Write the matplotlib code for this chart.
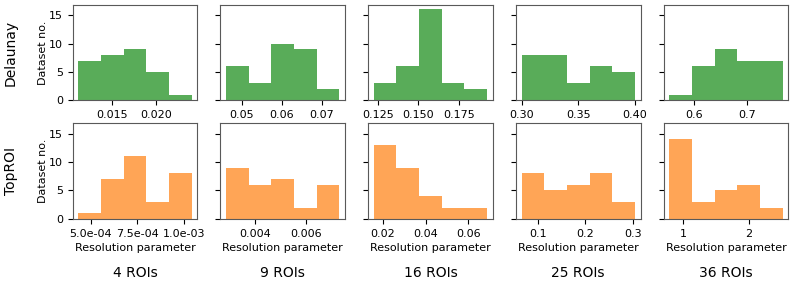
import matplotlib
matplotlib.use("Agg")
import matplotlib.pyplot as plt
import matplotlib.ticker as mticker
import numpy as np

rois = ['4 ROIs', '9 ROIs', '16 ROIs', '25 ROIs', '36 ROIs']
methods = ['Delaunay', 'TopROI']

# min / max of resolution parameter per panel, and counts in 5 bins
delaunay_range = [(0.01125, 0.02398), (0.0461, 0.0744), (0.1225, 0.1923), (0.300, 0.400), (0.5516, 0.7689)]
delaunay_counts = [[7, 8, 9, 5, 1], [6, 3, 10, 9, 2], [3, 6, 16, 3, 2], [8, 8, 3, 6, 5], [1, 6, 9, 7, 7]]
toproi_range = [(4.33e-4, 1.042e-3), (0.00285, 0.00732), (0.01576, 0.0688), (0.0663, 0.3035), (0.785, 2.518)]
toproi_counts = [[1, 7, 11, 3, 8], [9, 6, 7, 2, 6], [13, 9, 4, 2, 2], [8, 5, 6, 8, 3], [14, 3, 5, 6, 2]]

delaunay_ticks = [[0.015, 0.020], [0.05, 0.06, 0.07], [0.125, 0.150, 0.175], [0.30, 0.35, 0.40], [0.6, 0.7]]
toproi_ticks = [[5e-4, 7.5e-4, 1e-3], [0.004, 0.006], [0.02, 0.04, 0.06], [0.1, 0.2, 0.3], [1, 2]]

fig, axes = plt.subplots(2, 5, figsize=(7.93, 2.88), dpi=100, sharey=True)
fig.subplots_adjust(left=0.0917, right=0.994, bottom=0.240, top=0.983, wspace=0.185, hspace=0.243)

rows = [(delaunay_range, delaunay_counts, delaunay_ticks, 'green', 0.65),
        (toproi_range, toproi_counts, toproi_ticks, 'tab:orange', 0.7)]

for r, (rng, cnt, tks, col, a) in enumerate(rows):
    for c in range(5):
        ax = axes[r, c]
        lo, hi = rng[c]
        edges = np.linspace(lo, hi, 6)
        centers = (edges[:-1] + edges[1:]) / 2
        ax.hist(centers, bins=edges, weights=cnt[c], color=col, alpha=a)
        ax.set_xticks(tks[c])
        ax.tick_params(labelsize=8)
        for s in ax.spines.values():
            s.set_edgecolor('0.35')
        if r == 1:
            ax.set_xlabel('Resolution parameter', fontsize=8, labelpad=3)
    axes[r, 0].set_ylabel('Dataset no.', fontsize=8, labelpad=1)

axes[1, 0].xaxis.set_major_formatter(mticker.FormatStrFormatter('%.1e'))
axes[0, 3].xaxis.set_major_formatter(mticker.FormatStrFormatter('%.2f'))
axes[0, 0].set_yticks([0, 5, 10, 15])

for c in range(5):
    pos = axes[1, c].get_position()
    fig.text((pos.x0 + pos.x1) / 2, 1 - 273 / 288, rois[c], ha='center', va='center', fontsize=10)

for r in range(2):
    pos = axes[r, 0].get_position()
    fig.text(11 / 793, (pos.y0 + pos.y1) / 2, methods[r], rotation=90, ha='center', va='center', fontsize=10)

plt.savefig('out.png', dpi=100)
